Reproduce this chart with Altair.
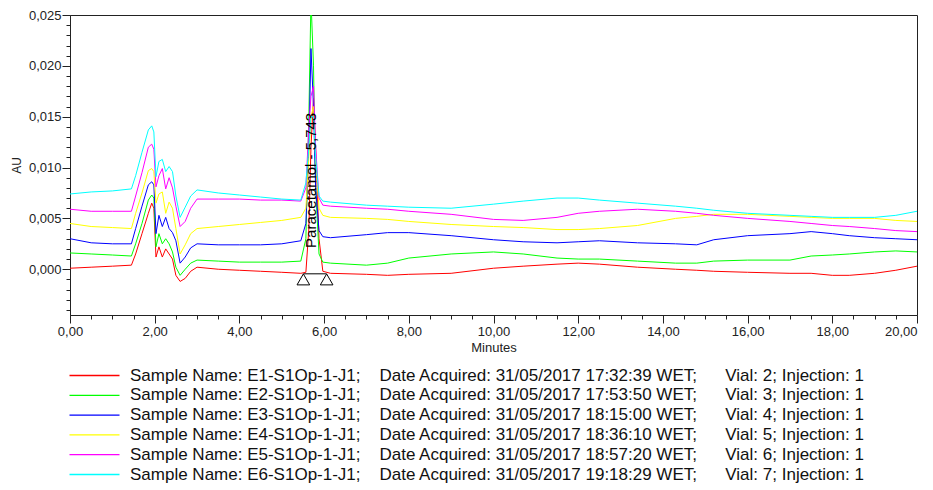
import altair as alt
import pandas as pd

# ---------------- data ----------------
TIME = [0.0, 0.5, 1.0, 1.45, 1.55, 1.7, 1.85, 1.93, 1.98, 2.03, 2.1, 2.18, 2.26, 2.34,
        2.42, 2.5, 2.6, 2.72, 2.85, 3.0, 3.5, 4.0, 4.5, 5.0, 5.45, 5.57, 5.64, 5.69,
        5.75, 5.8, 5.88, 5.97, 6.15, 7.0, 7.5, 8.0, 9.0, 10.0, 10.7, 11.5, 12.0, 12.5,
        13.4, 14.3, 14.8, 15.2, 16.0, 17.0, 17.5, 18.0, 18.4, 19.0, 19.5, 20.0]

E1 = [0.0001, 0.0002, 0.0003, 0.0004, 0.0015, 0.0035, 0.0055, 0.0065, 0.0060, 0.0012,
      0.0022, 0.0012, 0.0020, 0.0015, 0.0010, -0.0006, -0.0012, -0.0009, -0.0002, 0.0002,
      0.0000, -0.0001, -0.0002, -0.0003, -0.0004, -0.0003, 0.0040, 0.0120, 0.0168, 0.0120,
      0.0030, -0.0002, -0.0004, -0.0005, -0.0006, -0.0005, -0.0004, 0.0001, 0.0003, 0.0005,
      0.0006, 0.0005, 0.0002, 0.0000, -0.0001, -0.0002, -0.0003, -0.0004, -0.0004, -0.0006,
      -0.0006, -0.0004, -0.0001, 0.0003]
E2 = [0.0016, 0.0015, 0.0014, 0.0013, 0.0025, 0.0045, 0.0068, 0.0073, 0.0070, 0.0022,
      0.0035, 0.0025, 0.0030, 0.0025, 0.0017, 0.0002, -0.0006, 0.0000, 0.0006, 0.0009,
      0.0008, 0.0007, 0.0007, 0.0007, 0.0008, 0.0030, 0.0150, 0.0265, 0.0200, 0.0080,
      0.0015, 0.0007, 0.0006, 0.0004, 0.0006, 0.0011, 0.0015, 0.0017, 0.0015, 0.0011,
      0.0010, 0.0010, 0.0008, 0.0006, 0.0006, 0.0008, 0.0009, 0.0009, 0.0013, 0.0014,
      0.0015, 0.0017, 0.0018, 0.0017]
E3 = [0.0030, 0.0026, 0.0025, 0.0025, 0.0040, 0.0062, 0.0083, 0.0086, 0.0083, 0.0035,
      0.0053, 0.0042, 0.0051, 0.0040, 0.0036, 0.0028, 0.0006, 0.0012, 0.0021, 0.0025,
      0.0024, 0.0024, 0.0024, 0.0025, 0.0028, 0.0045, 0.0120, 0.0217, 0.0160, 0.0080,
      0.0038, 0.0032, 0.0031, 0.0034, 0.0036, 0.0036, 0.0033, 0.0029, 0.0027, 0.0026,
      0.0027, 0.0028, 0.0026, 0.0025, 0.0024, 0.0029, 0.0033, 0.0035, 0.0037, 0.0035,
      0.0033, 0.0031, 0.0030, 0.0029]
E4 = [0.0045, 0.0042, 0.0041, 0.0040, 0.0055, 0.0075, 0.0097, 0.0099, 0.0096, 0.0065,
      0.0074, 0.0076, 0.0055, 0.0066, 0.0060, 0.0040, 0.0015, 0.0024, 0.0035, 0.0040,
      0.0042, 0.0044, 0.0046, 0.0048, 0.0051, 0.0060, 0.0110, 0.0150, 0.0160, 0.0110,
      0.0060, 0.0053, 0.0051, 0.0050, 0.0049, 0.0047, 0.0044, 0.0042, 0.0041, 0.0039,
      0.0039, 0.0040, 0.0043, 0.0050, 0.0052, 0.0054, 0.0054, 0.0052, 0.0051, 0.0050,
      0.0050, 0.0050, 0.0048, 0.0047]
E5 = [0.0059, 0.0057, 0.0057, 0.0057, 0.0072, 0.0095, 0.0120, 0.0123, 0.0118, 0.0081,
      0.0092, 0.0099, 0.0079, 0.0090, 0.0080, 0.0062, 0.0042, 0.0047, 0.0060, 0.0069,
      0.0069, 0.0069, 0.0068, 0.0068, 0.0067, 0.0080, 0.0140, 0.0170, 0.0180, 0.0120,
      0.0070, 0.0063, 0.0062, 0.0060, 0.0059, 0.0057, 0.0054, 0.0049, 0.0048, 0.0051,
      0.0055, 0.0057, 0.0059, 0.0057, 0.0055, 0.0053, 0.0050, 0.0047, 0.0045, 0.0043,
      0.0042, 0.0040, 0.0038, 0.0037]
E6 = [0.0074, 0.0076, 0.0077, 0.0079, 0.0092, 0.0115, 0.0137, 0.0141, 0.0135, 0.0091,
      0.0106, 0.0108, 0.0096, 0.0101, 0.0096, 0.0072, 0.0051, 0.0061, 0.0072, 0.0078,
      0.0075, 0.0073, 0.0071, 0.0069, 0.0068, 0.0085, 0.0120, 0.0150, 0.0150, 0.0110,
      0.0072, 0.0067, 0.0066, 0.0063, 0.0062, 0.0061, 0.0060, 0.0064, 0.0067, 0.0070,
      0.0070, 0.0068, 0.0065, 0.0062, 0.0060, 0.0058, 0.0055, 0.0053, 0.0052, 0.0051,
      0.0051, 0.0051, 0.0053, 0.0057]

SERIES = [E1, E2, E3, E4, E5, E6]
SAMPLE = ["E1-S1Op-1-J1", "E2-S1Op-1-J1", "E3-S1Op-1-J1",
          "E4-S1Op-1-J1", "E5-S1Op-1-J1", "E6-S1Op-1-J1"]
ACQUIRED = ["31/05/2017 17:32:39 WET", "31/05/2017 17:53:50 WET", "31/05/2017 18:15:00 WET",
            "31/05/2017 18:36:10 WET", "31/05/2017 18:57:20 WET", "31/05/2017 19:18:29 WET"]
VIAL = [2, 3, 4, 5, 6, 7]
INJECTION = [1, 1, 1, 1, 1, 1]
COLORS = ["#ff0000", "#00ff00", "#0000ff", "#ffff00", "#ff00ff", "#00ffff"]

PEAK_LABEL = ["Paracetamol - 5,743"]
PEAK_LABEL_T = [5.69]
PEAK_LABEL_V = [0.0021]
PEAK_MARK_T = [5.51, 6.06]
PEAK_MARK_V = [-0.001, -0.001]
PEAK_BASE_T = [5.51]
PEAK_BASE_T2 = [6.06]
PEAK_BASE_V = [-0.00045]

X_MAJOR = [0, 2, 4, 6, 8, 10, 12, 14, 16, 18, 20]
X_MINOR = [0.5, 1, 1.5, 2.5, 3, 3.5, 4.5, 5, 5.5, 6.5, 7, 7.5, 8.5, 9, 9.5, 10.5, 11,
           11.5, 12.5, 13, 13.5, 14.5, 15, 15.5, 16.5, 17, 17.5, 18.5, 19, 19.5]
Y_MAJOR = [0.0, 0.005, 0.01, 0.015, 0.02, 0.025]
Y_MINOR = [-0.004, -0.003, -0.002, -0.001, 0.001, 0.002, 0.003, 0.004, 0.006, 0.007,
           0.008, 0.009, 0.011, 0.012, 0.013, 0.014, 0.016, 0.017, 0.018, 0.019, 0.021,
           0.022, 0.023, 0.024]

# ---------------- build table ----------------
GAP1 = "\u00a0" * 4
GAP2 = "\u00a0" * 6
names = [f"Sample Name: {s};{GAP1}Date Acquired: {a};{GAP2}Vial: {v}; Injection: {j}"
         for s, a, v, j in zip(SAMPLE, ACQUIRED, VIAL, INJECTION)]
rows = []
for name, vals in zip(names, SERIES):
    for t, v in zip(TIME, vals):
        rows.append({"series": name, "t": t, "v": v})
df = pd.DataFrame(rows)

FONT = "Liberation Sans"
INK = "#222"
xscale = alt.Scale(domain=[0, 20], nice=False, zero=False)
yscale = alt.Scale(domain=[-0.0045, 0.025], nice=False, zero=False)

xaxis = alt.Axis(
    orient="bottom", values=X_MAJOR, title="Minutes", grid=False, labelOverlap=False,
    labelFlush=False, labelExpr="replace(format(datum.value, '.2f'), '.', ',')",
    labelAlign={"condition": {"test": "datum.value >= 20", "value": "right"},
                "value": "center"},
    tickSize=8, labelPadding=2, titlePadding=3, labelFontSize=13, titleFontSize=13,
    titleFontWeight="normal", labelFont=FONT, titleFont=FONT,
)
yaxis = alt.Axis(
    orient="left", values=Y_MAJOR, title="AU", grid=False, labelOverlap=False,
    labelFlush=False, labelExpr="replace(format(datum.value, '.3f'), '.', ',')",
    tickSize=8, labelPadding=1, titlePadding=5, labelFontSize=13, titleFontSize=12,
    titleFontWeight="normal", labelFont=FONT, titleFont=FONT,
)
xminor = alt.Axis(orient="bottom", values=X_MINOR, labels=False, title=None, grid=False,
                  domain=False, tickSize=4)
yminor = alt.Axis(orient="left", values=Y_MINOR, labels=False, title=None, grid=False,
                  domain=False, tickSize=4)

lines = alt.Chart(df).mark_line(strokeWidth=1, clip=True).encode(
    x=alt.X("t:Q", scale=xscale, axis=xaxis),
    y=alt.Y("v:Q", scale=yscale, axis=yaxis),
    color=alt.Color(
        "series:N",
        scale=alt.Scale(domain=names, range=COLORS),
        sort=names,
        legend=alt.Legend(
            title=None, orient="none", legendX=16, legendY=352, padding=0,
            symbolType="M-5,0H5", symbolSize=100, symbolStrokeWidth=1.3,
            labelFont=FONT, labelFontSize=17, labelColor="#111", labelLimit=2000,
            labelOffset=27, rowPadding=1.8,
        ),
    ),
)

marks_df = pd.DataFrame({"t": PEAK_MARK_T, "v": PEAK_MARK_V})
tri = alt.Chart(marks_df).mark_point(
    shape="triangle-up", filled=False, size=160, color="black", strokeWidth=1, opacity=1
).encode(
    x=alt.X("t:Q", scale=xscale, axis=xminor),
    y=alt.Y("v:Q", scale=yscale, axis=yminor),
)

label_df = pd.DataFrame({"t": PEAK_LABEL_T, "v": PEAK_LABEL_V, "text": PEAK_LABEL})
label = alt.Chart(label_df).mark_text(
    angle=270, align="left", baseline="middle", fontSize=15, font=FONT, color="black"
).encode(
    x=alt.X("t:Q", scale=xscale, axis=None),
    y=alt.Y("v:Q", scale=yscale, axis=None),
    text="text:N",
)

base_df = pd.DataFrame({"t": PEAK_BASE_T, "t2": PEAK_BASE_T2, "v": PEAK_BASE_V})
baseline = alt.Chart(base_df).mark_rule(color="black", strokeWidth=1).encode(
    x=alt.X("t:Q", scale=xscale, axis=None),
    x2="t2:Q",
    y=alt.Y("v:Q", scale=yscale, axis=None),
)

chart = alt.layer(lines, tri, baseline, label).resolve_axis(
    x="independent", y="independent"
).properties(
    width=847, height=300,
    autosize=alt.AutoSizeParams(type="none"),
    padding={"left": 62, "top": 7, "right": 8, "bottom": 175},
).configure_view(
    stroke=INK, strokeWidth=1
).configure_axis(
    domainColor=INK, tickColor=INK, labelColor=INK, titleColor=INK
)

chart.save("out.html", embed_options={"renderer": "svg", "actions": False})
